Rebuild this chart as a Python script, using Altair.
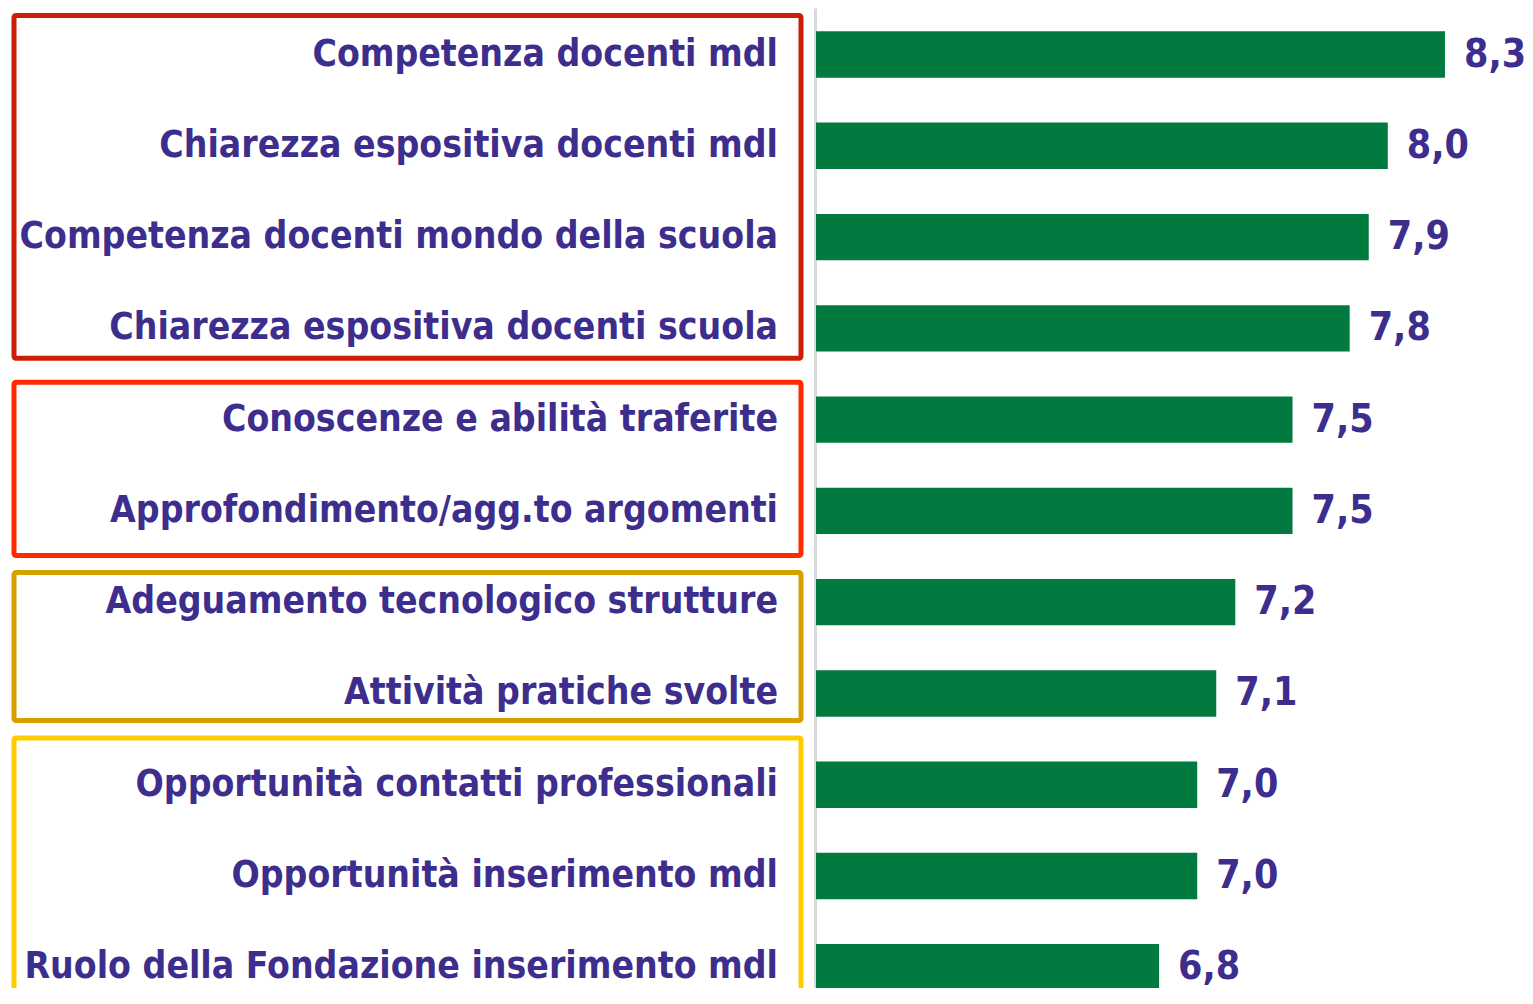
import altair as alt
import pandas as pd

categories = [
    "Competenza docenti mdl",
    "Chiarezza espositiva docenti mdl",
    "Competenza docenti mondo della scuola",
    "Chiarezza espositiva docenti scuola",
    "Conoscenze e abilità traferite",
    "Approfondimento/agg.to argomenti",
    "Adeguamento tecnologico strutture",
    "Attività pratiche svolte",
    "Opportunità contatti professionali",
    "Opportunità inserimento mdl",
    "Ruolo della Fondazione inserimento mdl",
]
values = [8.3, 8.0, 7.9, 7.8, 7.5, 7.5, 7.2, 7.1, 7.0, 7.0, 6.8]

# group frames around the labels (in row units; row i centred at i)
group_names = ["g1", "g2", "g3", "g4"]
group_top = [-0.428, 3.591, 5.676, 7.488]
group_bottom = [3.328, 5.490, 7.297, 10.6]
group_colors = ["#CC1E00", "#FF2A00", "#D4A100", "#FFCC00"]

TEXT = "#3D2E8E"
GREEN = "#007A3F"
FONT = "DejaVu Sans Condensed"

W = 709
H = 980
ROW = 92.21
PX_PER_UNIT = 190.6
y_min = -0.4552
y_max = y_min + H / ROW
x_max = 5 + W / PX_PER_UNIT

bars_df = pd.DataFrame({"category": categories, "value": values, "row": list(range(len(categories)))})
box_df = pd.DataFrame({"group": group_names, "top": group_top, "bottom": group_bottom})

y_scale = alt.Scale(domain=[y_min, y_max], reverse=True, nice=False, zero=False)
y_axis = alt.Axis(title=None, labels=False, ticks=False, grid=False, domain=True,
                  domainColor="#D9D9D9", domainWidth=3, offset=1)
x_enc = alt.X("value:Q", scale=alt.Scale(domain=[5, x_max], zero=False, nice=False), axis=None)
y_enc = alt.Y("row:Q", scale=y_scale, axis=y_axis)

bars = (
    alt.Chart(bars_df)
    .mark_bar(color=GREEN, clip=True, size=46.4, orient="horizontal")
    .encode(x=x_enc, y=y_enc)
)

values_txt = (
    alt.Chart(bars_df)
    .transform_calculate(lab="replace(format(datum.value, '.1f'), '.', ',')")
    .mark_text(align="left", baseline="middle", dx=19, font=FONT, fontSize=39,
               fontWeight="bold", color=TEXT)
    .encode(x=x_enc, y=y_enc, text="lab:N")
)

labels_txt = (
    alt.Chart(bars_df)
    .mark_text(align="right", baseline="middle", font=FONT, fontSize=37,
               fontWeight="bold", color=TEXT)
    .encode(x=alt.value(-38), y=y_enc, text="category:N")
)

boxes = (
    alt.Chart(box_df)
    .mark_rect(filled=False, strokeWidth=5, cornerRadius=2, fill=None)
    .encode(
        y=alt.Y("top:Q", scale=y_scale, axis=y_axis),
        y2="bottom:Q",
        x=alt.value(-802),
        x2=alt.value(-15),
        stroke=alt.Stroke("group:N", scale=alt.Scale(domain=group_names, range=group_colors), legend=None),
    )
)

chart = (
    alt.layer(bars, values_txt, labels_txt, boxes)
    .properties(
        width=W,
        height=H,
        background="white",
        autosize=alt.AutoSizeParams(type="none"),
        padding={"left": 808, "top": 0, "right": 0, "bottom": 0},
    )
    .configure_view(stroke=None)
)

chart.save("out.html", embed_options={"renderer": "svg", "actions": False})
